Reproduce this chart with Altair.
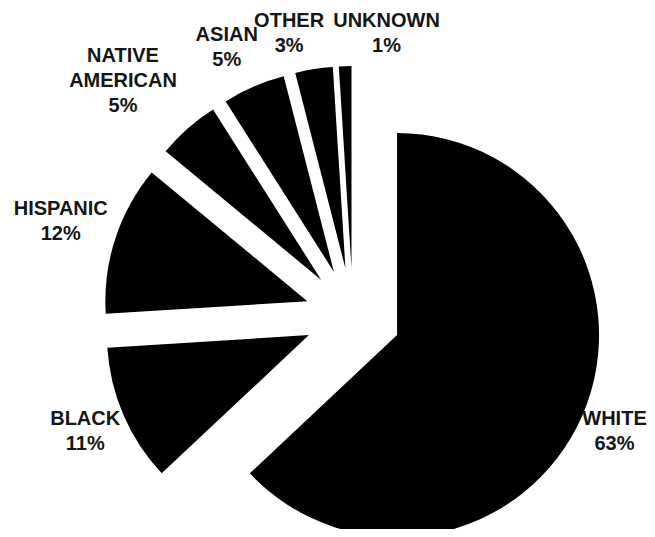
import altair as alt
import pandas as pd

categories = ["WHITE", "BLACK", "HISPANIC", "NATIVE AMERICAN", "ASIAN", "OTHER", "UNKNOWN"]
values = [63, 11, 12, 5, 5, 3, 1]

df = pd.DataFrame({"idx": list(range(len(categories))), "cat": categories, "value": values})

W, H = 639, 521
CX, CY = 345, 308      # pie centre inside the view
EXPLODE = 48           # explode distance of every slice
R = 202                # pie radius
SEP = 24               # minimum angular spacing of labels (deg)
LBASE = 247
LH = 25                # label line height
CW = 6.5               # approx. half-width per character of the labels
TOP = 13               # keep labels inside the top edge

base = alt.Chart(df).transform_window(
    cum="sum(value)", sort=[alt.SortField("idx")]
).transform_joinaggregate(
    total="sum(value)"
).transform_calculate(
    t0="2*PI*(datum.cum-datum.value)/datum.total",
    t1="2*PI*datum.cum/datum.total",
).transform_calculate(
    mid="(datum.t0+datum.t1)/2",
).transform_calculate(
    middeg="datum.mid*180/PI",
    ex=f"{CX}+{EXPLODE}*sin(datum.mid)",
    ey=f"{CY}-{EXPLODE}*cos(datum.mid)",
)

arcs = base.mark_arc(radius=R, color="black", strokeWidth=0).encode(
    theta=alt.Theta("t0:Q", scale=None, stack=None),
    theta2="t1:Q",
    x=alt.X("ex:Q", scale=None, axis=None),
    y=alt.Y("ey:Q", scale=None, axis=None),
)

labels = base.transform_window(
    window=[
        alt.WindowFieldDef(op="lag", field="middeg", param=1, **{"as": "prevmid"}),
        alt.WindowFieldDef(op="lead", field="middeg", param=1, **{"as": "nextmid"}),
    ],
    sort=[alt.SortField("idx")],
).transform_calculate(
    gp="datum.prevmid == null ? 999 : datum.middeg - datum.prevmid",
    gn="datum.nextmid == null ? 999 : datum.nextmid - datum.middeg",
    sp="indexof(datum.cat, ' ')",
).transform_calculate(
    la=f"(datum.middeg + max(0, {SEP}-datum.gp)/2 - max(0, {SEP}-datum.gn)/2)*PI/180",
    nlines="datum.sp < 0 ? 2 : 3",
    maxlen="datum.sp < 0 ? length(datum.cat) : max(datum.sp, length(datum.cat)-datum.sp-1)",
    label="replace(datum.cat, ' ', '\\n') + '\\n' + datum.value + '%'",
).transform_calculate(
    ld=f"{LBASE} + datum.maxlen*6.3*abs(sin(datum.la)) + ((datum.nlines-1)*25+15)*abs(cos(datum.la))",
).transform_calculate(
    lx0=f"{CX}+datum.ld*sin(datum.la)",
    ly0=f"{CY}-datum.ld*cos(datum.la) - (datum.nlines-1)*{LH}/2",
).transform_calculate(
    lx=f"max(datum.maxlen*{CW}, min(datum.lx0, {W} - datum.maxlen*{CW}))",
    ly=f"max({TOP}, datum.ly0)",
).mark_text(
    font="Liberation Sans", fontSize=20, fontWeight="bold", lineHeight=LH, align="center",
    baseline="middle", lineBreak="\n", color="#161616",
).encode(
    x=alt.X("lx:Q", scale=None, axis=None),
    y=alt.Y("ly:Q", scale=None, axis=None),
    text="label:N",
)

chart = alt.layer(arcs, labels).properties(
    width=W, height=H, autosize=alt.AutoSizeParams(type="none"), padding=0
).configure_view(strokeWidth=0)

chart.save("out.html", embed_options={"renderer": "svg", "actions": False})
